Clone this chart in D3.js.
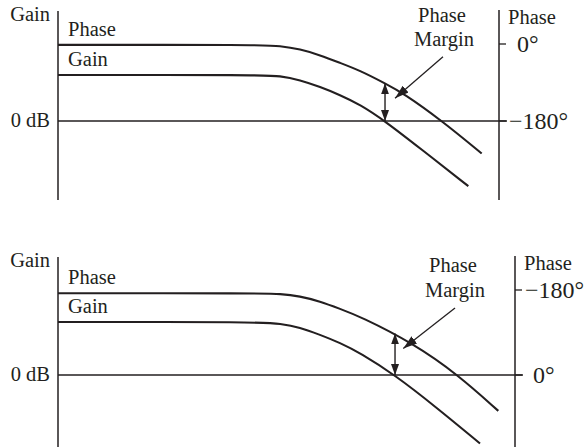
<!DOCTYPE html>
<html>
<head>
<meta charset="utf-8">
<script src="https://cdn.jsdelivr.net/npm/d3@7"></script>
<style>
  body { margin: 0; background: #fff; }
  text { font-family: "Liberation Serif", "Times New Roman", serif; font-size: 20.5px; fill: #231f20; }
  text.deg { font-size: 24px; }
</style>
</head>
<body>
<svg width="584" height="447"></svg>
<script>
// frequency in rad/s (log axis), gain in dB, phase in degrees

// top diagram
var topGainFreq  = [1, 68, 103, 157, 238, 361, 548, 925, 1920, 5270];
var topGainDb    = [12, 12, 11.8, 10.7, 8.9, 6.8, 4.3, 0, -7.1, -17];
var topPhaseFreq = [1, 68, 103, 157, 238, 361, 548, 925, 1355, 3020, 6965];
var topPhaseDeg  = [-2, -2, -4.5, -12, -26, -44, -62, -92, -115, -179, -256];
var topPhaseTicks = [0, -180];
var topCrossFreq = 925, topCrossPhase = -92;
var topMarginTip = [1140, -127], topMarginTail = [3105, -30];

// bottom diagram
var botGainFreq  = [1, 59, 88, 131, 196, 294, 440, 891, 2066, 4940];
var botGainDb    = [12, 12, 11.6, 10.8, 9.1, 7.3, 5.0, 0, -7.4, -15.5];
var botPhaseFreq = [1, 59, 88, 131, 196, 294, 440, 1288, 3190, 7145];
var botPhaseDeg  = [-173, -173, -172, -167, -156, -140, -124, -67, 0, 76];
var botPhaseTicks = [-180, 0];
var botCrossFreq = 891, botCrossPhase = -88;
var botMarginTip = [1052, -56], botMarginTail = [2985, -142];

var freqDomain = [1, 10000];
var ink = "#231f20";

var svg = d3.select("svg");

var defs = svg.append("defs");
defs.append("marker")
    .attr("id", "dbl")
    .attr("markerUnits", "userSpaceOnUse")
    .attr("viewBox", "0 -5 11 10")
    .attr("refX", 11).attr("refY", 0)
    .attr("markerWidth", 11).attr("markerHeight", 10)
    .attr("orient", "auto-start-reverse")
  .append("path")
    .attr("d", "M0,-4L11,0L0,4Z")
    .attr("fill", ink);
defs.append("marker")
    .attr("id", "ptr")
    .attr("markerUnits", "userSpaceOnUse")
    .attr("viewBox", "0 -6 14 12")
    .attr("refX", 14).attr("refY", 0)
    .attr("markerWidth", 14).attr("markerHeight", 12)
    .attr("orient", "auto")
  .append("path")
    .attr("d", "M0,-4.5L14,0L0,4.5Z")
    .attr("fill", ink);

function drawPanel(p) {
  var g = svg.append("g");
  var x = d3.scaleLog().domain(freqDomain).range([p.left, p.right]);
  var yGain = d3.scaleLinear().domain([0, 12]).range([p.zeroDb, p.gain12]);
  var yPhase = d3.scaleLinear().domain(p.phaseDomain).range(p.phaseRange);

  var gainLine = d3.line()
      .x(function(d) { return x(d[0]); })
      .y(function(d) { return yGain(d[1]); })
      .curve(d3.curveBasis);
  var phaseLine = d3.line()
      .x(function(d) { return x(d[0]); })
      .y(function(d) { return yPhase(d[1]); })
      .curve(d3.curveBasis);

  // axes
  g.append("line")
      .attr("x1", p.left).attr("x2", p.left)
      .attr("y1", p.axisTop).attr("y2", p.axisBottom)
      .attr("stroke", ink).attr("stroke-width", 1.5);
  g.append("line")
      .attr("x1", p.right).attr("x2", p.right)
      .attr("y1", p.axisTop - 1).attr("y2", p.axisBottom)
      .attr("stroke", ink).attr("stroke-width", 1.5);

  // 0 dB line
  g.append("line")
      .attr("x1", p.left).attr("x2", p.right + 8)
      .attr("y1", yGain(0)).attr("y2", yGain(0))
      .attr("stroke", ink).attr("stroke-width", 1.3);

  // phase ticks
  var ticks = g.selectAll(".ptick").data(p.phaseTicks).enter().append("g");
  ticks.append("line")
      .attr("x1", p.right).attr("x2", p.right + 7)
      .attr("y1", function(d) { return yPhase(d); })
      .attr("y2", function(d) { return yPhase(d); })
      .attr("stroke", ink).attr("stroke-width", 1.3);
  ticks.append("text")
      .attr("class", "deg")
      .attr("x", function(d) { return p.right + 10 + (d < 0 ? 0 : 8); })
      .attr("y", function(d) { return yPhase(d) + 7.5; })
      .text(function(d) { return (d < 0 ? "\u2212" + Math.abs(d) : d) + "\u00b0"; });

  // axis titles
  g.append("text").attr("x", p.left - 8).attr("y", p.axisTop + 10)
      .attr("text-anchor", "end").text("Gain");
  g.append("text").attr("x", p.right + 9).attr("y", p.axisTop + 13)
      .text("Phase");
  g.append("text").attr("x", p.left - 8).attr("y", yGain(0) + 6)
      .attr("text-anchor", "end").text("0 dB");

  // curves
  g.append("path")
      .datum(d3.zip(p.phaseFreq, p.phaseDeg))
      .attr("d", phaseLine)
      .attr("fill", "none").attr("stroke", ink).attr("stroke-width", 2.1);
  g.append("path")
      .datum(d3.zip(p.gainFreq, p.gainDb))
      .attr("d", gainLine)
      .attr("fill", "none").attr("stroke", ink).attr("stroke-width", 2.1);

  // curve labels
  g.append("text").attr("x", p.left + 10).attr("y", yPhase(p.phaseDeg[0]) - 9)
      .text("Phase");
  g.append("text").attr("x", p.left + 10).attr("y", yGain(p.gainDb[0]) - 9)
      .text("Gain");

  // phase margin double arrow
  g.append("line")
      .attr("x1", x(p.crossFreq)).attr("x2", x(p.crossFreq))
      .attr("y1", yPhase(p.crossPhase)).attr("y2", yGain(0))
      .attr("stroke", ink).attr("stroke-width", 1.4)
      .attr("marker-start", "url(#dbl)")
      .attr("marker-end", "url(#dbl)");

  // phase margin label + pointer
  g.append("line")
      .attr("x1", x(p.marginTail[0])).attr("y1", yPhase(p.marginTail[1]))
      .attr("x2", x(p.marginTip[0])).attr("y2", yPhase(p.marginTip[1]))
      .attr("stroke", ink).attr("stroke-width", 1.3)
      .attr("marker-end", "url(#ptr)");
  var lx = x(p.marginTail[0]) + p.labelDx;
  var ly = yPhase(p.marginTail[1]);
  g.append("text").attr("x", lx - 2).attr("y", ly - p.labelGap - 11)
      .attr("text-anchor", "middle").text("Phase");
  g.append("text").attr("x", lx).attr("y", ly - 11)
      .attr("text-anchor", "middle").text("Margin");
}

drawPanel({
  left: 58, right: 499, axisTop: 11, axisBottom: 200,
  zeroDb: 121, gain12: 75,
  phaseDomain: [0, -180], phaseRange: [44, 121],
  gainFreq: topGainFreq, gainDb: topGainDb,
  phaseFreq: topPhaseFreq, phaseDeg: topPhaseDeg,
  phaseTicks: topPhaseTicks,
  crossFreq: topCrossFreq, crossPhase: topCrossPhase,
  marginTip: topMarginTip, marginTail: topMarginTail,
  labelDx: 1, labelGap: 24
});

drawPanel({
  left: 58, right: 515, axisTop: 257, axisBottom: 447,
  zeroDb: 375, gain12: 322,
  phaseDomain: [-180, 0], phaseRange: [290, 375],
  gainFreq: botGainFreq, gainDb: botGainDb,
  phaseFreq: botPhaseFreq, phaseDeg: botPhaseDeg,
  phaseTicks: botPhaseTicks,
  crossFreq: botCrossFreq, crossPhase: botCrossPhase,
  marginTip: botMarginTip, marginTail: botMarginTail,
  labelDx: 0, labelGap: 25
});
</script>
</body>
</html>
